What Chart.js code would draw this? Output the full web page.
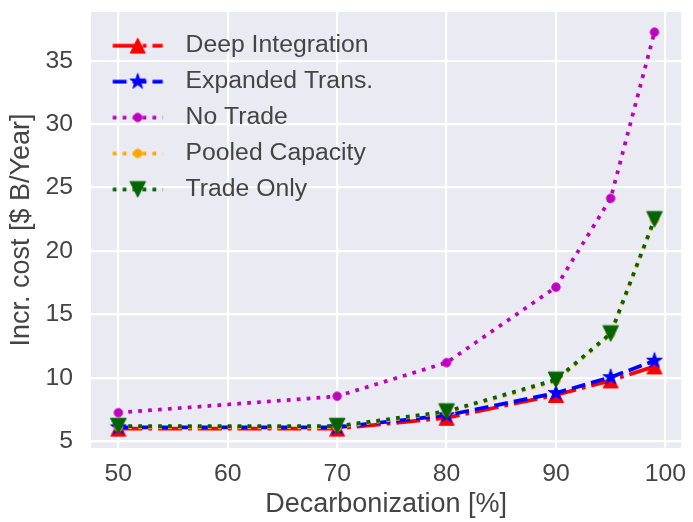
<!DOCTYPE html>
<html>
<head>
<meta charset="utf-8">
<script src="https://cdn.jsdelivr.net/npm/chart.js@4.4.0/dist/chart.umd.min.js"></script>
<style>
  html, body { margin: 0; padding: 0; background: #ffffff; }
  #wrap { width: 693px; height: 522px; }
</style>
</head>
<body>
<div id="wrap"><canvas id="costChart" width="693" height="522"></canvas></div>
<script>
// Incremental cost vs decarbonization level, one line per scenario

const decarbonization = [50, 70, 80, 90, 95, 99];
const deepIntegration = [6.0, 6.0, 6.85, 8.65, 9.8, 10.9];
const expandedTrans = [6.1, 6.1, 7.05, 8.8, 10.05, 11.35];
const noTrade = [7.25, 8.55, 11.2, 17.15, 24.15, 37.25];
const pooledCapacity = [6.1, 6.1, 7.3, 9.75, 13.45, 22.45];
const tradeOnly = [6.2, 6.2, 7.35, 9.85, 13.5, 22.5];
const seriesNames = ['Deep Integration', 'Expanded Trans.', 'No Trade', 'Pooled Capacity', 'Trade Only'];

const textColor = '#444444';
const fontFamily = '"Liberation Sans", Arial, sans-serif';
const LW = 3.75;

// matplotlib-like dash patterns scaled by line width
const dashes = {
  dashdot: [6.4 * LW, 1.6 * LW, 1 * LW, 1.6 * LW],
  dashed: [3.7 * LW, 1.6 * LW],
  dotted: [1 * LW, 1.65 * LW]
};

// draw a marker shape centred on (cx, cy)
function drawShape(ctx, kind, color, cx, cy) {
  ctx.fillStyle = color;
  ctx.strokeStyle = color;
  ctx.lineWidth = 1;
  ctx.setLineDash([]);
  ctx.beginPath();
  if (kind === 'up') {
    const h = 7.5;
    ctx.moveTo(cx, cy - h);
    ctx.lineTo(cx - h, cy + h);
    ctx.lineTo(cx + h, cy + h);
  } else if (kind === 'down') {
    const h = 7.8;
    ctx.moveTo(cx, cy + h);
    ctx.lineTo(cx - h, cy - h);
    ctx.lineTo(cx + h, cy - h);
  } else if (kind === 'star') {
    const R = 8.2, r = R * 0.381966;
    for (let i = 0; i < 10; i++) {
      const rad = (i % 2 === 0) ? R : r;
      const a = -Math.PI / 2 + i * Math.PI / 5;
      const px = cx + rad * Math.cos(a);
      const py = cy + rad * Math.sin(a);
      if (i === 0) ctx.moveTo(px, py); else ctx.lineTo(px, py);
    }
  } else {
    ctx.arc(cx, cy, 4.2, 0, Math.PI * 2);
  }
  ctx.closePath();
  ctx.fill();
  ctx.stroke();
}

function makeMarker(kind, color) {
  const c = document.createElement('canvas');
  c.width = 22;
  c.height = 22;
  drawShape(c.getContext('2d'), kind, color, 11, 11);
  return c;
}

// legend handle: short line with the dash style and a marker in the middle
function makeLegendHandle(kind, color, dash) {
  const c = document.createElement('canvas');
  c.width = 71;
  c.height = 24;
  const ctx = c.getContext('2d');
  ctx.strokeStyle = color;
  ctx.lineWidth = LW;
  ctx.lineCap = 'butt';
  ctx.setLineDash(dash);
  ctx.beginPath();
  ctx.moveTo(10.5, 12);
  ctx.lineTo(60.5, 12);
  ctx.stroke();
  drawShape(ctx, kind, color, 35.5, 12);
  return c;
}

const styles = [
  { color: '#ff0000', dash: dashes.dashdot, marker: 'up' },
  { color: '#0000ff', dash: dashes.dashed, marker: 'star' },
  { color: '#bf00bf', dash: dashes.dotted, marker: 'circle' },
  { color: '#ffa500', dash: dashes.dotted, marker: 'circle' },
  { color: '#006400', dash: dashes.dotted, marker: 'down' }
];
const seriesValues = [deepIntegration, expandedTrans, noTrade, pooledCapacity, tradeOnly];

const datasets = seriesValues.map((vals, i) => {
  const s = styles[i];
  return {
    label: seriesNames[i],
    data: decarbonization.map((x, j) => ({ x: x, y: vals[j] })),
    borderColor: s.color,
    backgroundColor: s.color,
    borderWidth: LW,
    borderDash: s.dash,
    borderCapStyle: 'butt',
    tension: 0,
    fill: false,
    pointStyle: makeMarker(s.marker, s.color),
    pointRadius: 8,
    order: seriesValues.length - 1 - i  // later series drawn on top, like matplotlib
  };
});
const legendHandles = styles.map(s => makeLegendHandle(s.marker, s.color, s.dash));

const plotBackground = {
  id: 'plotBackground',
  beforeDraw(chart) {
    const { ctx, chartArea: a } = chart;
    ctx.save();
    ctx.fillStyle = '#eaeaf2';
    ctx.fillRect(a.left, a.top, a.right - a.left, a.bottom - a.top);
    ctx.restore();
  }
};

// drop the automatic label overhang padding so the plot area keeps its size
function noPadding(scale) {
  scale.paddingLeft = 0;
  scale.paddingRight = 0;
  scale.paddingTop = 0;
  scale.paddingBottom = 0;
}

const tickFont = { family: fontFamily, size: 24.75 };
const titleFont = { family: fontFamily, size: 27, lineHeight: 1 };

new Chart(document.getElementById('costChart'), {
  type: 'line',
  data: { datasets: datasets },
  options: {
    responsive: false,
    animation: false,
    layout: { padding: { left: 0, right: 6, top: 12, bottom: 0 } },
    scales: {
      x: {
        type: 'linear',
        min: 47.5,
        max: 101.45,
        border: { display: false },
        grid: { color: '#ffffff', lineWidth: 2.2, drawTicks: false },
        ticks: {
          stepSize: 10,
          includeBounds: false,
          padding: 11,
          color: textColor,
          font: tickFont,
          maxRotation: 0,
          callback: v => String(v)
        },
        title: {
          display: true,
          text: 'Decarbonization [%]',
          color: textColor,
          font: titleFont,
          padding: { top: 0, bottom: 3.5 }
        },
        afterFit: scale => { scale.height = 74; noPadding(scale); }
      },
      y: {
        type: 'linear',
        min: 4.47,
        max: 38.84,
        border: { display: false },
        grid: { color: '#ffffff', lineWidth: 2.2, drawTicks: false },
        ticks: {
          stepSize: 5,
          includeBounds: false,
          padding: 18,
          color: textColor,
          font: tickFont,
          callback: v => String(v)
        },
        title: {
          display: true,
          text: 'Incr. cost [$ B/Year]',
          color: textColor,
          font: titleFont,
          padding: { top: 8.5, bottom: 0 }
        },
        afterFit: scale => { scale.width = 91; noPadding(scale); }
      }
    },
    plugins: {
      tooltip: { enabled: false },
      legend: {
        position: 'chartArea',
        align: 'start',
        title: { display: true, text: '', font: { size: 1, lineHeight: 1 }, padding: { top: 21, bottom: 0 } },
        labels: {
          usePointStyle: true,
          pointStyleWidth: 71,
          padding: 11.2,
          color: textColor,
          font: { family: fontFamily, size: 24.75 },
          generateLabels: chart => chart.data.datasets.map((ds, i) => ({
            text: ds.label,
            pointStyle: legendHandles[i],
            fillStyle: ds.borderColor,
            strokeStyle: ds.borderColor,
            lineWidth: 0,
            fontColor: textColor,
            hidden: false,
            datasetIndex: i
          }))
        }
      }
    }
  },
  plugins: [plotBackground]
});
</script>
</body>
</html>
